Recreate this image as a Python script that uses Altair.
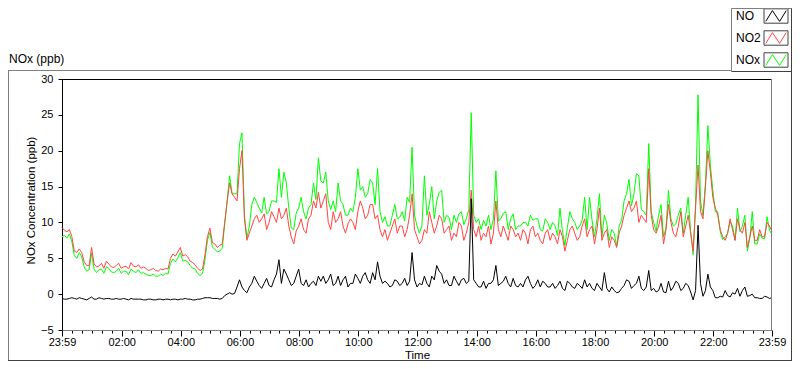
import altair as alt
import pandas as pd

# time stamps: minutes after midnight, from 23:59 (previous day) to 23:59, every 5 minutes
time_min = list(range(-1, 1440, 5))

no_ppb = [
    -0.6, -0.7, -0.7, -0.6, -0.5, -0.6, -0.7, -0.5, -0.6, -0.7,
    -0.8, -0.6, -0.4, -0.7, -0.7, -0.5, -0.6, -0.7, -0.6, -0.6,
    -0.7, -0.7, -0.6, -0.7, -0.7, -0.6, -0.7, -0.8, -0.6, -0.7,
    -0.7, -0.7, -0.7, -0.8, -0.8, -0.7, -0.7, -0.8, -0.8, -0.7,
    -0.7, -0.8, -0.7, -0.7, -0.8, -0.7, -0.7, -0.8, -0.7, -0.7,
    -0.6, -0.7, -0.7, -0.8, -0.8, -0.7, -0.7, -0.6, -0.5, -0.5,
    -0.5, -0.6, -0.6, -0.6, -0.7, -0.6, -0.2, 0.0, 0.2, 0.0,
    0.1, 1.0, 2.0, 1.0, 0.5, 0.2, 1.0, 1.5, 2.5, 1.8,
    1.2, 0.8, 1.5, 2.2, 1.2, 1.0, 2.0, 2.8, 4.8, 1.5,
    3.5, 2.8, 2.0, 1.2, 1.5, 2.5, 3.5, 1.5, 1.2, 2.0,
    1.0, 1.5, 1.8, 1.2, 2.5, 1.8, 2.5, 1.5, 2.0, 2.8,
    1.2, 1.5, 2.5, 1.2, 2.0, 2.5, 1.0, 1.5, 1.5, 2.8,
    2.2, 1.5, 2.5, 3.0, 2.0, 1.5, 3.0, 2.0, 4.5, 2.5,
    1.5, 1.8, 1.5, 1.0, 1.2, 2.0, 1.8, 1.2, 1.5, 2.2,
    1.2, 1.8, 5.8, 2.0, 1.0, 1.5, 1.3, 2.5, 1.5, 1.0,
    2.5, 2.0, 4.0, 3.2, 2.8, 1.5, 2.0, 1.2, 1.2, 2.5,
    1.8, 1.2, 2.0, 2.2, 1.5, 1.8, 13.3, 2.0, 1.5, 1.0,
    1.0, 1.8, 0.8, 1.5, 1.5, 2.0, 4.0, 1.2, 1.5, 1.8,
    2.5, 1.5, 1.0, 2.2, 1.2, 1.0, 1.5, 1.0, 2.0, 2.5,
    1.5, 0.8, 1.2, 2.0, 1.0, 1.8, 1.5, 1.0, 1.0, 1.5,
    0.8, 1.2, 1.8, 0.8, 0.5, 1.8, 1.5, 1.0, 0.8, 1.5,
    1.2, 0.8, 2.0, 1.0, 1.5, 0.8, 0.5, 1.5, 1.0, 0.5,
    3.0, 0.8, 0.3, 1.0, 0.5, 0.2, 0.3, 0.8, 1.2, 2.0,
    1.8, 0.8, 1.2, 1.5, 2.5, 0.8, 0.5, 1.0, 3.3, 0.5,
    0.8, 0.3, 0.5, 1.5, 0.3, 0.2, 1.8, 0.5, 1.0, 1.8,
    1.5, 0.5, 0.8, 1.5, 1.2, 0.3, -0.8, 0.5, 9.6, 1.5,
    -0.3, 0.5, 2.8, 1.0, 0.5, -0.5, -0.5, -0.3, -0.4, 0.5,
    -0.2, -0.4, 0.2, 0.0, 0.8, -0.3, 0.5, 1.0, -0.3, -0.2,
    0.0, -0.5, -0.5, -0.6, -0.6, -0.3, -0.4, -0.6, -0.5,
]

no2_ppb = [
    9.3, 8.9, 8.7, 9.0, 8.0, 6.0, 5.8, 6.3, 5.8, 4.5,
    4.0, 4.0, 6.5, 4.2, 3.8, 3.9, 4.3, 3.6, 4.6, 4.2,
    3.8, 3.7, 4.0, 4.3, 3.6, 3.8, 3.9, 3.5, 4.4, 3.9,
    3.8, 4.1, 3.6, 3.8, 3.6, 3.3, 3.4, 3.6, 3.3, 3.2,
    3.5, 3.4, 3.6, 3.5, 5.0, 5.6, 5.3, 5.9, 6.5, 5.3,
    5.5, 5.2, 4.6, 4.4, 4.1, 3.6, 3.3, 3.5, 5.5, 8.0,
    9.2, 7.2, 7.0, 6.5, 6.8, 7.0, 10.0, 13.0, 15.5, 14.0,
    13.5, 13.0, 17.5, 20.0, 10.5, 7.5, 8.5, 9.5, 10.5, 11.0,
    10.0, 10.5, 11.2, 9.0, 10.0, 11.5, 10.8, 10.0, 12.0, 10.5,
    11.0, 12.0, 9.5, 8.0, 7.0, 8.8, 9.5, 10.5, 9.0, 8.5,
    10.5, 11.0, 13.0, 12.0, 14.2, 12.0, 13.0, 14.0, 10.0, 9.0,
    11.5, 10.0, 10.5, 11.5, 9.5, 8.5, 9.8, 10.5, 10.0, 9.0,
    11.5, 13.0, 12.0, 10.5, 11.0, 12.5, 12.5, 10.5, 11.0, 9.0,
    8.0, 9.0, 7.5, 8.5, 9.5, 10.5, 8.5, 9.5, 9.5, 8.0,
    9.0, 11.0, 14.0, 9.0, 8.0, 7.0, 7.5, 9.0, 8.5, 11.5,
    10.0, 8.5, 9.5, 11.0, 10.5, 8.5, 9.0, 9.5, 7.5, 8.5,
    8.0, 10.0, 9.5, 7.5, 8.5, 10.0, 14.5, 9.0, 8.0, 9.5,
    7.5, 8.5, 8.0, 9.5, 7.0, 8.5, 13.0, 9.0, 8.0, 9.5,
    8.5, 7.5, 9.5, 9.0, 8.0, 8.5, 7.5, 9.0, 8.5, 7.0,
    9.0, 9.5, 8.0, 8.5, 7.5, 7.0, 8.5, 9.0, 7.5, 8.5,
    8.0, 7.0, 9.0, 8.0, 6.0, 7.5, 9.0, 9.5, 8.5, 7.5,
    8.0, 9.5, 10.5, 8.0, 9.0, 9.5, 7.0, 9.0, 12.0, 7.5,
    8.5, 9.0, 6.5, 8.0, 7.5, 6.5, 8.5, 9.5, 11.0, 12.0,
    13.0, 11.5, 12.0, 13.0, 10.0, 11.0, 10.5, 10.0, 17.5, 11.0,
    9.0, 8.5, 9.5, 11.0, 7.0, 9.0, 12.5, 10.0, 8.5, 8.0,
    9.5, 11.5, 8.0, 9.5, 11.0, 8.5, 6.0, 12.0, 18.0, 11.5,
    10.5, 15.0, 20.0, 17.0, 13.5, 12.0, 11.0, 9.0, 8.0, 7.5,
    8.5, 10.5, 9.0, 7.5, 10.5, 9.0, 8.5, 10.0, 6.5, 8.0,
    9.5, 7.5, 7.5, 9.0, 8.0, 8.0, 10.0, 9.5, 8.7,
]

nox_ppb = [
    8.0, 8.2, 7.8, 8.4, 7.3, 5.4, 5.0, 5.8, 5.2, 3.8,
    3.2, 3.4, 5.7, 3.5, 3.0, 3.4, 3.5, 2.9, 3.8, 3.6,
    3.1, 3.0, 3.2, 3.6, 2.9, 3.2, 3.2, 2.7, 3.5, 3.2,
    3.0, 3.4, 2.9, 3.0, 2.8, 2.6, 2.6, 2.8, 2.5, 2.5,
    2.8, 2.6, 2.9, 2.8, 4.3, 4.9, 4.5, 5.1, 5.8, 4.6,
    4.7, 4.5, 4.0, 3.6, 3.5, 2.9, 2.6, 2.9, 4.8, 7.5,
    8.6, 6.6, 6.2, 5.9, 6.0, 6.4, 9.8, 13.0, 16.5, 14.0,
    14.0, 14.0, 21.0, 22.5, 11.0, 7.8, 9.5, 12.5, 13.5, 12.8,
    12.0, 11.3, 13.5, 11.2, 11.5, 13.0, 13.0, 12.8, 17.5, 13.5,
    17.0, 15.5, 12.0, 9.2, 9.0, 11.3, 12.0, 13.5, 11.5, 10.5,
    12.0, 12.5, 15.5, 13.2, 19.0, 15.8, 15.5, 17.0, 13.0, 11.8,
    13.0, 11.5, 15.5, 13.0, 12.5, 11.0, 11.0, 12.0, 11.5, 13.5,
    17.5, 14.5, 15.0, 13.5, 14.0, 16.0, 15.5, 12.5, 17.5, 11.5,
    10.0, 10.8, 9.5, 9.5, 11.0, 12.5, 10.5, 10.7, 11.5, 10.2,
    13.5, 12.8, 20.5, 11.0, 9.5, 8.5, 9.5, 16.5, 11.0, 12.5,
    15.0, 10.5, 13.0, 14.2, 14.5, 10.0, 11.0, 10.7, 9.0, 11.0,
    10.0, 11.2, 11.5, 9.7, 10.5, 11.8, 25.3, 11.0, 10.0, 10.5,
    9.0, 10.3, 9.5, 11.0, 9.0, 10.5, 17.2, 10.2, 10.5, 11.3,
    11.5, 9.0, 10.5, 11.2, 9.0, 9.5, 9.5, 10.0, 10.0, 9.5,
    11.0, 10.3, 10.5, 10.5, 9.0, 8.8, 10.5, 10.0, 9.0, 10.0,
    9.5, 8.2, 12.0, 8.8, 6.8, 9.3, 11.5, 10.5, 10.0, 9.0,
    9.5, 10.3, 13.5, 9.0, 13.5, 10.3, 8.0, 10.5, 14.0, 8.0,
    11.0, 9.8, 7.5, 9.0, 8.5, 6.7, 9.5, 10.3, 13.0, 14.0,
    16.0, 12.3, 14.0, 16.8, 16.5, 11.8, 11.5, 11.0, 21.0, 11.5,
    10.0, 8.8, 11.0, 12.5, 8.0, 9.2, 14.5, 10.5, 9.5, 9.8,
    11.0, 12.0, 8.5, 11.0, 13.5, 8.8, 5.5, 12.5, 27.8, 13.0,
    11.0, 15.5, 23.5, 18.0, 14.5, 11.5, 11.5, 8.7, 7.6, 8.0,
    8.5, 10.1, 9.5, 7.5, 12.0, 8.7, 9.5, 11.0, 6.0, 7.8,
    11.5, 7.0, 7.0, 8.4, 7.8, 7.7, 10.8, 8.9, 8.3,
]

series_names = ["NO", "NO2", "NOx"]
series_colors = ["#000000", "#ff4444", "#00ff00"]
series_index = [0, 1, 2]

y_ticks = [-5, 0, 5, 10, 15, 20, 25, 30]
x_ticks = [-1] + list(range(20, 1440, 20)) + [1439]

FONT = "Liberation Sans"
W, H = 710, 251
PAD = {"left": 54, "top": 71, "right": 20, "bottom": 31}

df = pd.DataFrame({"t": time_min, "NO": no_ppb, "NO2": no2_ppb, "NOx": nox_ppb})
long_df = df.melt("t", var_name="series", value_name="value")

major = "datum.value == -1 || datum.value == 1439 || datum.value % 120 == 0"
label_expr = (
    "datum.value == -1 || datum.value == 1439 ? '23:59' : "
    "(datum.value % 120 == 0 ? (datum.value < 600 ? '0' : '') + (datum.value / 60) + ':00' : '')"
)

x_enc = alt.X(
    "t:Q",
    scale=alt.Scale(domain=[-1, 1439], nice=False, zero=False),
    axis=alt.Axis(
        values=x_ticks,
        labelExpr=label_expr,
        tickSize={"condition": {"test": major, "value": 6}, "value": 3},
        tickColor="black",
        domainColor="#808080",
        labelFont=FONT,
        labelFontSize=11,
        labelColor="black",
        labelPadding=0,
        labelOverlap=False,
        labelFlush=False,
        grid=False,
        title="Time",
        titleFont=FONT,
        titleFontSize=11.5,
        titleFontWeight="normal",
        titleColor="black",
        titleX=355,
        titleY=28,
        titleAlign="center",
        titleBaseline="alphabetic",
    ),
)

y_enc = alt.Y(
    "value:Q",
    scale=alt.Scale(domain=[-5, 30], nice=False, zero=False),
    axis=alt.Axis(
        values=y_ticks,
        tickSize=4,
        tickColor="black",
        domainColor="black",
        labelFont=FONT,
        labelFontSize=11,
        labelColor="black",
        labelPadding=5,
        grid=False,
        title="NOx Concentration (ppb)",
        titleFont=FONT,
        titleFontSize=11.5,
        titleFontWeight="normal",
        titleColor="black",
        titleX=-31,
        titleY=121,
        titleAngle=-90,
        titleAlign="center",
        titleBaseline="middle",
    ),
)


def series_line(name, color):
    return (
        alt.Chart(long_df)
        .transform_filter(alt.datum.series == name)
        .mark_line(color=color, strokeWidth=1)
        .encode(x=x_enc, y=y_enc, order="t:Q")
    )


lines = alt.layer(
    series_line("NOx", series_colors[2]),
    series_line("NO2", series_colors[1]),
    series_line("NO", series_colors[0]),
)

# ---- legend box (top right) ----
legend_df = pd.DataFrame({"series": series_names, "idx": series_index})
ly = alt.Y("idx:Q", scale=alt.Scale(domain=[0, 2], range=[-63, -19]), axis=None)
BOX = "M-1,-0.6H1V0.6H-1Z"
ZIG = "M-0.85,0.45L-0.3,-0.45L0.3,0.45L0.85,-0.45"

legend_text = alt.Chart(legend_df).mark_text(
    align="left", baseline="middle", font=FONT, fontSize=12, color="black"
).encode(x=alt.value(674), y=ly, text="series:N")
legend_box = alt.Chart(legend_df).mark_point(
    shape=BOX, filled=False, size=576, stroke="#404040", strokeWidth=1, opacity=1
).encode(x=alt.value(714), y=ly)
legend_zig = alt.Chart(legend_df).mark_point(
    shape=ZIG, filled=False, size=576, strokeWidth=1, opacity=1
).encode(
    x=alt.value(714),
    y=ly,
    color=alt.Color("series:N", scale=alt.Scale(domain=series_names, range=series_colors), legend=None),
)
legend = alt.layer(legend_text, legend_box, legend_zig)

# ---- frames and title ----
one = pd.DataFrame({"k": [0]})


def rule(x, x2, y, y2, color):
    return alt.Chart(one).mark_rule(color=color, strokeWidth=1).encode(
        x=alt.value(x), x2=alt.value(x2), y=alt.value(y), y2=alt.value(y2)
    )


frames = alt.layer(
    rule(0, W, 0.5, 0.5, "black"),               # plot top border
    rule(W - 0.5, W - 0.5, 0, H, "#808080"),      # plot right border
    rule(-54, 669.5, -8.5, -8.5, "#808080"),      # outer frame top
    rule(-53.5, -53.5, -8.5, 281.5, "#808080"),   # outer frame left
    rule(-54, 730, 281.5, 281.5, "#404040"),      # outer frame bottom
    rule(729.5, 729.5, -71, 281.5, "#404040"),    # outer frame right / legend right
    rule(669.5, 729.5, -70.5, -70.5, "#808080"),  # legend top
    rule(669.5, 669.5, -70.5, -7.5, "#808080"),   # legend left
    rule(669.5, 729.5, -7.5, -7.5, "#404040"),    # legend bottom
    alt.Chart(one).mark_text(
        text="NOx (ppb)", align="left", baseline="alphabetic", font=FONT, fontSize=12, color="black"
    ).encode(x=alt.value(-53), y=alt.value(-16)),
)

chart = (
    alt.layer(lines, legend, frames)
    .resolve_scale(y="independent")
    .properties(
        width=W,
        height=H,
        autosize=alt.AutoSizeParams(type="none"),
        padding=PAD,
        background="white",
    )
    .configure_view(stroke=None)
)

chart.save("out.html", embed_options={"renderer": "svg", "actions": False})
